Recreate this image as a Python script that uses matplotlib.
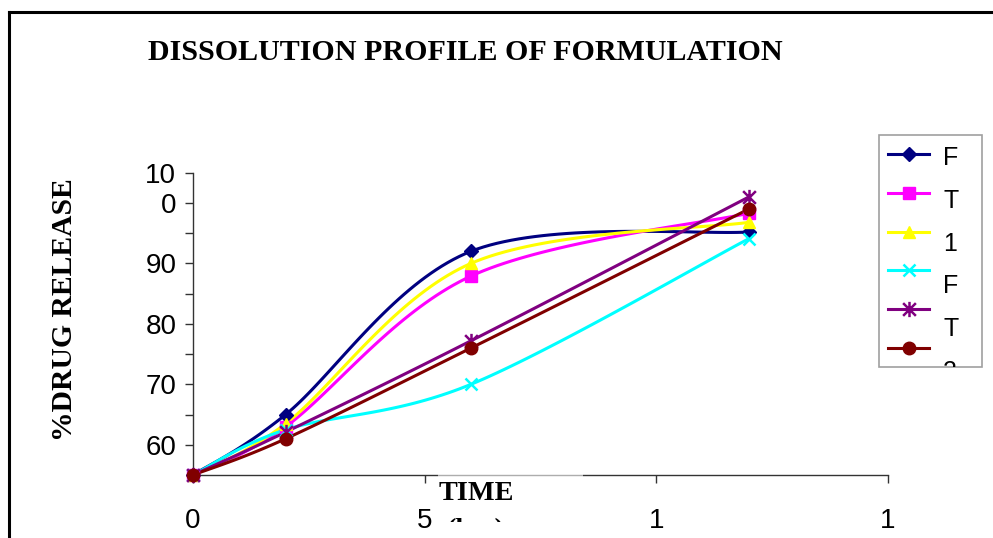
import numpy as np
import matplotlib
matplotlib.use("Agg")
import matplotlib.pyplot as plt
from matplotlib.path import Path
from matplotlib.lines import Line2D
from matplotlib.patches import Rectangle
from matplotlib.transforms import Bbox

# ---------------- data ----------------
time_hrs = [0, 2, 6, 12]
series_names = ["F", "T", "1", "F", "T", "2"]
f_navy = [55, 65.0, 92.0, 95.2]
t_magenta = [55, 63.0, 87.9, 98.3]
one_yellow = [55, 63.5, 90.0, 96.8]
f_cyan = [55, 62.5, 70.0, 94.1]
t_purple = [55, 62.1, 77.2, 101.0]
two_maroon = [55, 61.0, 76.0, 99.0]
series_values = [f_navy, t_magenta, one_yellow, f_cyan, t_purple, two_maroon]

y_major = [60, 70, 80, 90, 100]
y_major_labels = ["60", "70", "80", "90", "0"]
y_minor = [65, 75, 85, 95, 105]
y_minor_labels = ["", "", "", "", "10"]
x_ticks = [0, 5, 10, 15]
x_tick_labels = ["0", "5", "1", "1"]

# ---------------- styles ----------------
star = Path([(-1, -1), (1, 1), (-1, 1), (1, -1), (0, -1.2), (0, 1.2)],
            [Path.MOVETO, Path.LINETO, Path.MOVETO, Path.LINETO, Path.MOVETO, Path.LINETO])
colors = ["#000080", "#FF00FF", "#FFFF00", "#00FFFF", "#800080", "#800000"]
markers = ["D", "s", "^", "x", star, "o"]
msizes = [7, 8, 9, 9, 11, 9]

W, H = 993, 538
fig = plt.figure(figsize=(W / 100, H / 100), dpi=100)
fig.patch.set_facecolor("white")

# chart border (extends beyond the bottom/right of the picture)
fig.add_artist(Line2D([9 / W, 9 / W], [0, 1 - 12 / H], color="black", lw=2.2,
                      transform=fig.transFigure))
fig.add_artist(Line2D([9 / W, 1.0], [1 - 12 / H, 1 - 12 / H], color="black", lw=2.2,
                      transform=fig.transFigure))

ax_l, ax_r, ax_t, ax_b = 193, 888, 172.7, 475
ax = fig.add_axes([ax_l / W, 1 - ax_b / H, (ax_r - ax_l) / W, (ax_b - ax_t) / H])
ax.set_xlim(0, 15)
ax.set_ylim(55, 105)
for s in ["top", "right"]:
    ax.spines[s].set_visible(False)
for s in ["left", "bottom"]:
    ax.spines[s].set_color("#333333")
    ax.spines[s].set_linewidth(1.0)

tick_font = dict(family="Liberation Sans", size=20)
ax.set_yticks(y_major)
ax.set_yticklabels(y_major_labels, **tick_font)
ax.set_yticks(y_minor, minor=True)
ax.set_yticklabels(y_minor_labels, minor=True, **tick_font)
ax.set_xticks(x_ticks)
ax.set_xticklabels(x_tick_labels, **tick_font)
ax.tick_params(axis="y", which="both", direction="out", length=6, width=1,
               color="#333333", pad=6)
ax.tick_params(axis="x", which="both", direction="out", length=6, width=1,
               color="#333333", pad=18)


def smooth(xs, ys, n=40):
    """Excel-like smoothed line (Catmull-Rom as cubic Bezier)."""
    P = np.column_stack([xs, ys]).astype(float)
    ext = np.vstack([P[0], P, P[-1]])
    out = []
    t = np.linspace(0, 1, n)[:, None]
    for i in range(len(P) - 1):
        p0, p3 = ext[i + 1], ext[i + 2]
        c1 = p0 + (ext[i + 2] - ext[i]) / 6.0
        c2 = p3 - (ext[i + 3] - ext[i + 1]) / 6.0
        seg = ((1 - t) ** 3) * p0 + 3 * ((1 - t) ** 2) * t * c1 + 3 * (1 - t) * t ** 2 * c2 + t ** 3 * p3
        out.append(seg if i == 0 else seg[1:])
    out = np.vstack(out)
    return out[:, 0], out[:, 1]


for vals, c, m, ms in zip(series_values, colors, markers, msizes):
    sx, sy = smooth(time_hrs, vals)
    ax.plot(sx, sy, color=c, lw=2.2, clip_on=False, zorder=3)
    ax.plot(time_hrs, vals, linestyle="none", marker=m, markersize=ms, color=c,
            markeredgecolor=c, markeredgewidth=1.8 if m in ("x",) or m is star else 1,
            clip_on=False, zorder=4)

# titles
serif_bold = dict(family="Liberation Serif", weight="bold")
fig.text(148 / W, 1 - 52 / H, "DISSOLUTION PROFILE OF FORMULATION", ha="left",
         va="center", fontsize=21.6, **serif_bold)
fig.text(65 / W, 1 - 310 / H, "%DRUG RELEASE", rotation=90, ha="center",
         va="center", fontsize=21.3, **serif_bold)

# x-axis title box (partly covers the axis line), second line clipped
fig.add_artist(Rectangle((438 / W, 1 - 477 / H), (583 - 438) / W, 3 / H,
                         transform=fig.transFigure, facecolor="white", alpha=0.6,
                         edgecolor="none", zorder=5))
fig.text(476 / W, 1 - 493 / H, "TIME", ha="center", va="center", fontsize=20.3,
         zorder=6, **serif_bold)
hrs = fig.text(476 / W, 1 - 531 / H, "(hrs)", ha="center", va="center", fontsize=20.3,
               zorder=6, **serif_bold)
hrs.set_clip_box(Bbox.from_extents(430, H - 522, 590, H - 476))
hrs.set_clip_on(True)

# legend (clipped at its bottom edge)
lx0, ly0, lx1, ly1 = 879, 135, 982, 367
fig.add_artist(Rectangle((lx0 / W, 1 - ly1 / H), (lx1 - lx0) / W, (ly1 - ly0) / H,
                         transform=fig.transFigure, facecolor="white",
                         edgecolor="#a0a0a0", lw=1.2, zorder=5))
clip = Bbox.from_extents(lx0, H - ly1, lx1, H - ly0)
for i, (name, c, m, ms) in enumerate(zip(series_names, colors, markers, msizes)):
    my = 154 + i * 38.8
    fig.add_artist(Line2D([888 / W, 929 / W], [1 - my / H, 1 - my / H], color=c, lw=2.2,
                          transform=fig.transFigure, zorder=6))
    fig.add_artist(Line2D([908.5 / W], [1 - my / H], marker=m, markersize=ms, color=c,
                          markeredgecolor=c,
                          markeredgewidth=1.8 if m in ("x",) or m is star else 1,
                          linestyle="none", transform=fig.transFigure, zorder=7))
    ty = 158 + i * 42.8
    t = fig.text(943 / W, 1 - ty / H, name, ha="left", va="center",
                 family="Liberation Sans", fontsize=18, zorder=7)
    t.set_clip_box(clip)
    t.set_clip_on(True)

fig.savefig("out.png", dpi=100)
